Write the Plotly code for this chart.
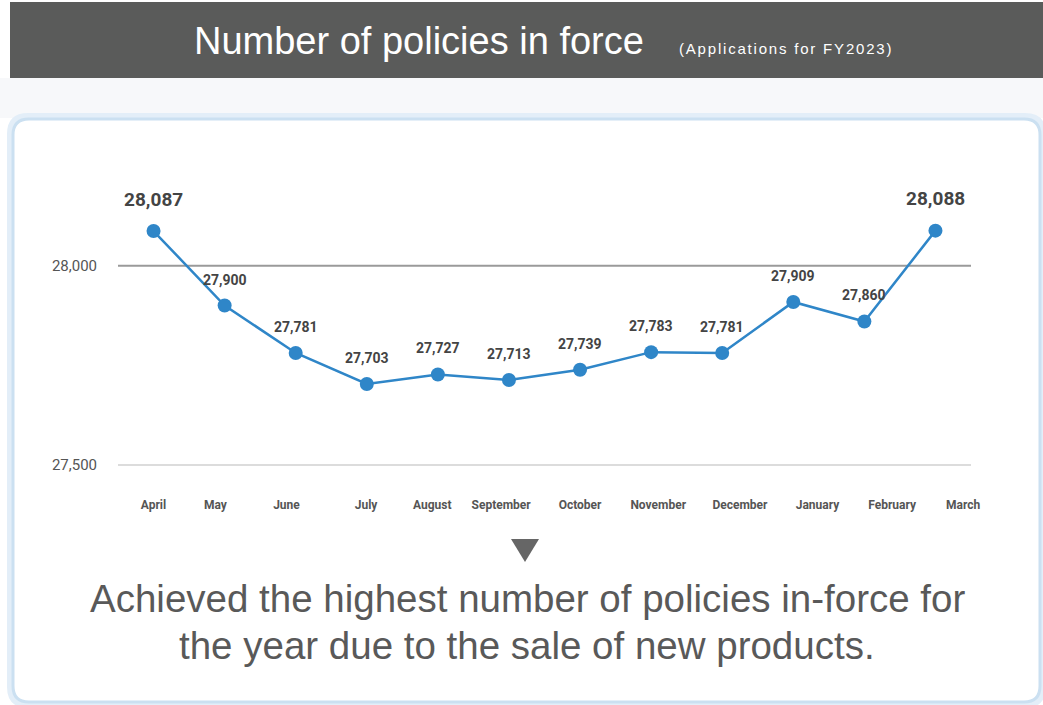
import plotly.graph_objects as go

# ---- data ----
months = ["April", "May", "June", "July", "August", "September", "October",
          "November", "December", "January", "February", "March"]
policies = [28087, 27900, 27781, 27703, 27727, 27713, 27739, 27783, 27781, 27909, 27860, 28088]
y_ticks = [27500, 28000]

title_text = "Number of policies in force"
subtitle_text = "(Applications for FY2023)"
caption_lines = ["Achieved the highest number of policies in-force for",
                 "the year due to the sale of new products."]

# ---- layout geometry (pixels) ----
W, H = 1043, 705
ML, MR, MT, MB = 118, 72, 186, 213
PW, PH = W - ML - MR, H - MT - MB
SANS = "Arial, 'Liberation Sans', Helvetica, sans-serif"


def xp(px):
    return (px - ML) / PW


def yp(py):
    return (H - MB - py) / PH


# tick-label offsets relative to each month's index (label placement in the original layout)
tick_shift = [0.0, -0.13, -0.13, -0.01, -0.08, -0.11, 0.0, 0.10, 0.25, 0.34, 0.39, 0.39]
x_idx = list(range(len(months)))
tick_pos = [i + s for i, s in zip(x_idx, tick_shift)]

big = [0, len(policies) - 1]

fig = go.Figure()
fig.add_trace(go.Scatter(
    x=x_idx, y=policies,
    mode="lines+markers",
    line=dict(color="#2f86c8", width=2.5),
    marker=dict(color="#2f86c8", size=14),
    hoverinfo="skip",
    cliponaxis=False,
))


def rrect(x0, y0, x1, y1, r):
    pts = [
        f"M {xp(x0 + r)} {yp(y0)}",
        f"L {xp(x1 - r)} {yp(y0)}",
        f"Q {xp(x1)} {yp(y0)} {xp(x1)} {yp(y0 + r)}",
        f"L {xp(x1)} {yp(y1 - r)}",
        f"Q {xp(x1)} {yp(y1)} {xp(x1 - r)} {yp(y1)}",
        f"L {xp(x0 + r)} {yp(y1)}",
        f"Q {xp(x0)} {yp(y1)} {xp(x0)} {yp(y1 - r)}",
        f"L {xp(x0)} {yp(y0 + r)}",
        f"Q {xp(x0)} {yp(y0)} {xp(x0 + r)} {yp(y0)}",
        "Z",
    ]
    return " ".join(pts)


shapes = [
    dict(type="rect", xref="paper", yref="paper", x0=xp(0), x1=xp(W), y0=yp(118), y1=yp(78),
         fillcolor="#f7f8fa", line=dict(width=0), layer="below"),
    dict(type="rect", xref="paper", yref="paper", x0=xp(10), x1=xp(W + 5), y0=yp(78), y1=yp(2),
         fillcolor="#5a5b5a", line=dict(width=0), layer="below"),
    dict(type="path", xref="paper", yref="paper", path=rrect(10, 116, 1043, 705, 18),
         fillcolor="#e3eef8", line=dict(color="#e3eef8", width=6), layer="below"),
    dict(type="path", xref="paper", yref="paper", path=rrect(13, 119, 1040, 702, 16),
         fillcolor="#ffffff", line=dict(color="#cbe0f1", width=3), layer="below"),
    dict(type="line", xref="paper", yref="y", x0=0, x1=1, y0=y_ticks[0], y1=y_ticks[0],
         line=dict(color="#dcdcdc", width=2), layer="below"),
    dict(type="line", xref="paper", yref="y", x0=0, x1=1, y0=y_ticks[1], y1=y_ticks[1],
         line=dict(color="#9a9a9a", width=2), layer="below"),
    dict(type="path", xref="paper", yref="paper",
         path=f"M {xp(511)} {yp(539)} L {xp(539)} {yp(539)} L {xp(525)} {yp(562)} Z",
         fillcolor="#666666", line=dict(width=0)),
]

annotations = [
    dict(text=title_text, xref="paper", yref="paper", x=xp(419), y=yp(41),
         xanchor="center", yanchor="middle", showarrow=False,
         font=dict(family=SANS, size=38, color="#ffffff")),
    dict(text=f'<span style="letter-spacing:1.8px">{subtitle_text}</span>',
         xref="paper", yref="paper", x=xp(786), y=yp(48),
         xanchor="center", yanchor="middle", showarrow=False,
         font=dict(family=SANS, size=15, color="#ffffff")),
    dict(text=caption_lines[0], xref="paper", yref="paper", x=xp(527), y=yp(598),
         xanchor="center", yanchor="middle", showarrow=False,
         font=dict(family=SANS, size=38.5, color="#595959")),
    dict(text=caption_lines[1], xref="paper", yref="paper", x=xp(527), y=yp(645),
         xanchor="center", yanchor="middle", showarrow=False,
         font=dict(family=SANS, size=38.5, color="#595959")),
]

# value labels above each point
for i, v in zip(x_idx, policies):
    is_big = i in big
    annotations.append(dict(
        text=f"{v:,}", x=i, y=v, xref="x", yref="y",
        xanchor="center", yanchor="middle", showarrow=False,
        yshift=32 if is_big else 26,
        font=dict(family="Roboto", size=19 if is_big else 14, color="#444444", weight="bold"),
    ))

fig.update_layout(
    width=W, height=H,
    margin=dict(l=ML, r=MR, t=MT, b=MB),
    paper_bgcolor="#ffffff",
    plot_bgcolor="rgba(0,0,0,0)",
    showlegend=False,
    shapes=shapes,
    annotations=annotations,
    xaxis=dict(range=[-0.5, 11.5], tickmode="array", tickvals=tick_pos, ticktext=months,
               showgrid=False, zeroline=False, showline=False, ticks="",
               ticklabelstandoff=4,
               tickfont=dict(family="Roboto", size=12, color="#555555", weight="bold"),
               fixedrange=True),
    yaxis=dict(range=[27432, 28200], tickmode="array", tickvals=y_ticks,
               ticktext=[f"{v:,}" for v in y_ticks],
               showgrid=False, zeroline=False, showline=False, ticks="",
               ticklabelstandoff=20,
               tickfont=dict(family="Roboto", size=15, color="#555555"),
               fixedrange=True),
)

fig.write_html("out.html")
